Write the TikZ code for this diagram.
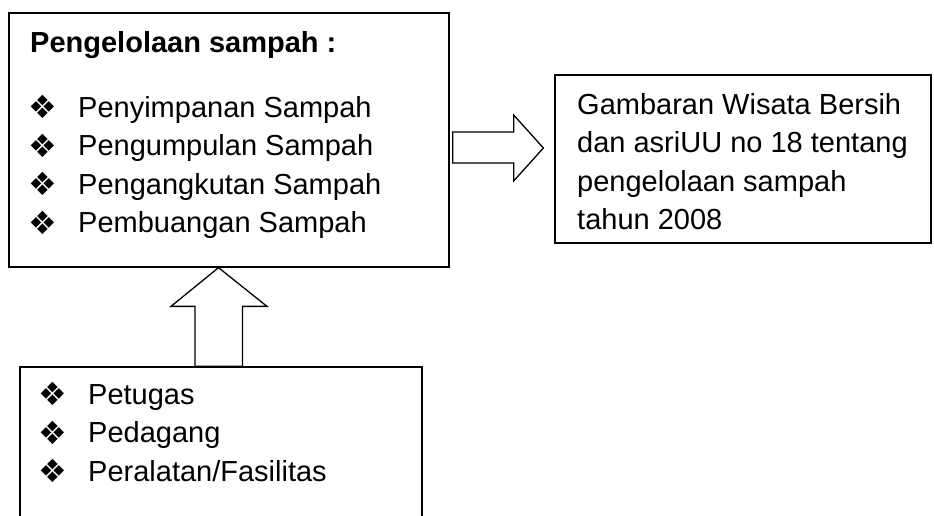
\documentclass[tikz,border=0pt]{standalone}
\usepackage{fontspec}
\setmainfont{Liberation Sans}
\newfontfamily\symfont{DejaVu Sans}
\usetikzlibrary{calc}
\begin{document}
\begin{tikzpicture}[x=1pt,y=-1pt,
  box/.style={draw=black, line width=1.3pt, inner sep=0pt, fill=white},
  txt/.style={anchor=base west, inner sep=0pt, font=\fontsize{29}{33}\selectfont},
  bul/.style={anchor=center, inner sep=0pt, font=\symfont\fontsize{32}{36}\selectfont},
  blockarrow/.style={draw=black, line width=1.3pt, fill=white, line join=miter}]
\useasboundingbox (0,0) rectangle (934,515);
\clip (0,0) rectangle (934,515);
% boxes
\node[box, minimum width=440pt, minimum height=254pt] (b1) at (229,140) {};
\node[box, minimum width=376pt, minimum height=168pt] (b2) at (743,159) {};
\node[box, minimum width=402pt, minimum height=163pt] (b3) at (221,448.5) {};
% box 1 text
\node[txt, font=\bfseries\fontsize{29}{33}\selectfont] (t0) at (30,52) {Pengelolaan sampah :};
\node[bul] (p1) at (43,107) {❖};
\node[txt] (i1) at (78,117) {Penyimpanan Sampah};
\node[bul] (p2) at (43,145.5) {❖};
\node[txt] (i2) at (78,155.5) {Pengumpulan Sampah};
\node[bul] (p3) at (43,184) {❖};
\node[txt] (i3) at (78,194) {Pengangkutan Sampah};
\node[bul] (p4) at (43,222.5) {❖};
\node[txt] (i4) at (78,232.5) {Pembuangan Sampah};
% box 2 text
\node[txt] (g1) at (577,114) {Gambaran Wisata Bersih};
\node[txt] (g2) at (577,152.5) {dan asriUU no 18 tentang};
\node[txt] (g3) at (577,191) {pengelolaan sampah};
\node[txt] (g4) at (577,229.5) {tahun 2008};
% box 3 text
\node[bul] (q1) at (53,394) {❖};
\node[txt] (k1) at (88,404) {Petugas};
\node[bul] (q2) at (53,432.5) {❖};
\node[txt] (k2) at (88,442.5) {Pedagang};
\node[bul] (q3) at (53,471) {❖};
\node[txt] (k3) at (88,481) {Peralatan/Fasilitas};
% right block arrow (box 1 -> box 2)
\coordinate (rs) at ($(b1.east)+(3,8)$);
\draw[blockarrow] ($(rs)+(0,-16)$) -- ++(61,0) -- ++(0,-17) -- ($(b2.west)+(-11,-11)$)
  -- ($(rs)+(61,33)$) -- ++(0,-18) -- ++(-61,0) -- cycle;
% up block arrow (box 3 -> box 1)
\coordinate (us) at (b3.north -| 218.5,0);
\draw[blockarrow] ($(us)+(-23.5,0)$) -- ++(0,-60) -- ++(-24,0) -- (b1.south -| us)
  -- ($(us)+(48.5,-60)$) -- ++(-24.5,0) -- ++(0,60) -- cycle;
\end{tikzpicture}
\end{document}
